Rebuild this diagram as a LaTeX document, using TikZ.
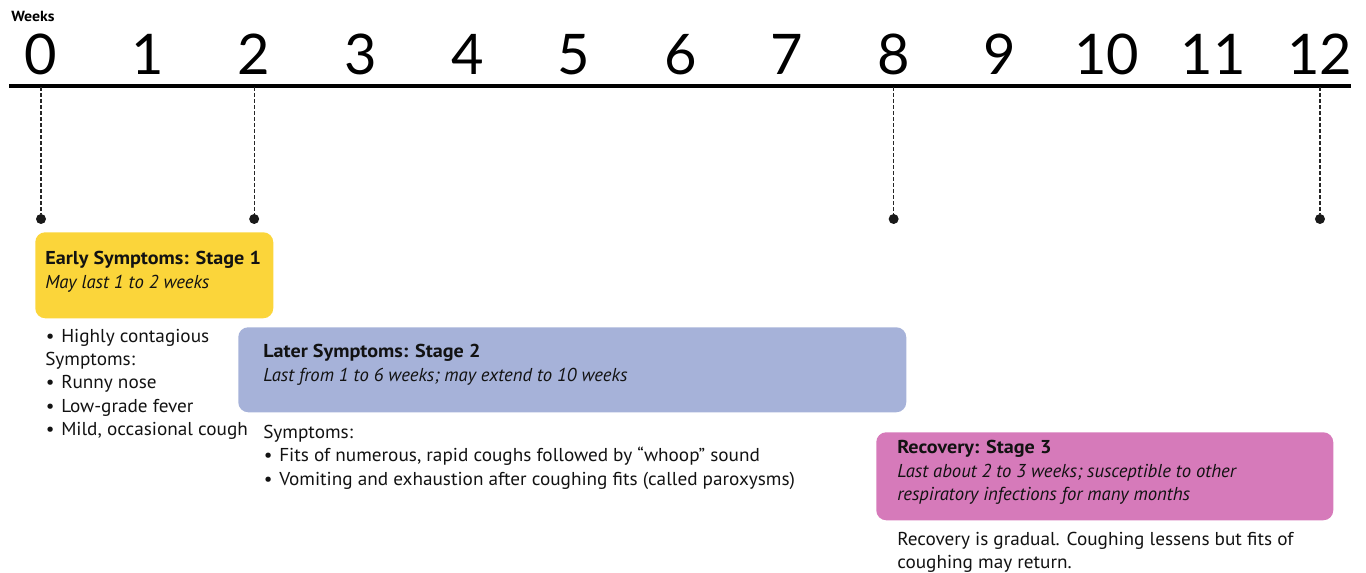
\documentclass[tikz,border=0pt]{standalone}
\usepackage{fontspec}
\setmainfont{PT Sans}[UprightFeatures={FakeStretch=1.03},BoldFeatures={FakeStretch=1.08}]
\newfontfamily\numfont{Lato}
\usetikzlibrary{positioning}
\definecolor{stageone}{RGB}{251,213,58}
\definecolor{stagetwo}{RGB}{166,178,217}
\definecolor{stagethree}{RGB}{214,122,186}
\newcommand\bul{\makebox[12pt][l]{\hspace{0.5pt}\textbullet}}

\begin{document}
\begin{tikzpicture}[x=0.75pt,y=-0.75pt,
  txt/.style={align=left,inner sep=0pt,text=black!93,font=\fontsize{14}{17.6}\selectfont},
  stagebox/.style={fill=#1,rounded corners=7.5pt,anchor=north west,inner sep=0pt},
  num/.style={anchor=base,inner sep=0pt,font=\numfont\fontsize{42}{42}\selectfont},
  pin/.style={circle,fill=black!90,minimum size=7.5pt,inner sep=0pt},
  guide/.style={dash pattern=on 3pt off 1.5pt,line width=0.8pt,black!85}]
\useasboundingbox (0,0) rectangle (1366,573);
\node[anchor=base west,inner sep=0pt,font=\bfseries\fontsize{11}{11}\selectfont] (weeks) at (11,22) {Weeks};
\coordinate (axl) at (9,86);
\coordinate (axr) at (1351,86);
\draw[line width=2.4pt] (axl) -- (axr);
\foreach \wk in {0,...,12} {
  \coordinate (t\wk) at ({41+106.58*\wk},87);
  \node[num] (n\wk) at ({41+106.58*\wk},75) {\wk};
}
\foreach \wk in {0,2,8,12} {
  \node[pin] (p\wk) at ({41+106.58*\wk},219) {};
  \draw[guide] (t\wk) -- (p\wk);
}

\node[stagebox=stageone,minimum width=178.5pt,minimum height=64.5pt] (early) at (35,232) {};
\node[stagebox=stagetwo,minimum width=501pt,minimum height=63.75pt] (later) at (238,327) {};
\node[stagebox=stagethree,minimum width=342.75pt,minimum height=66pt] (recov) at (876,432) {};

\node[txt,below right=14.25pt and 7.5pt of early.north west] (earlyhead)
  {\textbf{Early Symptoms: Stage 1}\\\textit{May last 1 to 2 weeks}};
\node[txt,below right=7.5pt and 7.5pt of early.south west] (earlylist)
  {\bul Highly contagious\\Symptoms:\\\bul Runny nose\\\bul Low-grade fever\\\bul Mild, occasional cough};

\node[txt,below right=12.75pt and 18.75pt of later.north west] (laterhead)
  {\textbf{Later Symptoms: Stage 2}\\\textit{Last from 1 to 6 weeks; may extend to 10 weeks}};
\node[txt,below right=9pt and 18.75pt of later.south west] (laterlist)
  {Symptoms:\\\bul Fits of numerous, rapid coughs followed by \textquotedblleft whoop\textquotedblright\ sound\\\bul Vomiting and exhaustion after coughing fits (called paroxysms)};

\node[txt,below right=6pt and 15.75pt of recov.north west] (recovhead)
  {\textbf{Recovery: Stage 3}\\\textit{Last about 2 to 3 weeks; susceptible to other}\\\textit{respiratory infections for many months}};
\node[txt,below right=8.25pt and 15.75pt of recov.south west] (recovnote)
  {Recovery is gradual. Coughing lessens but fits of\\coughing may return.};
\end{tikzpicture}
\end{document}
